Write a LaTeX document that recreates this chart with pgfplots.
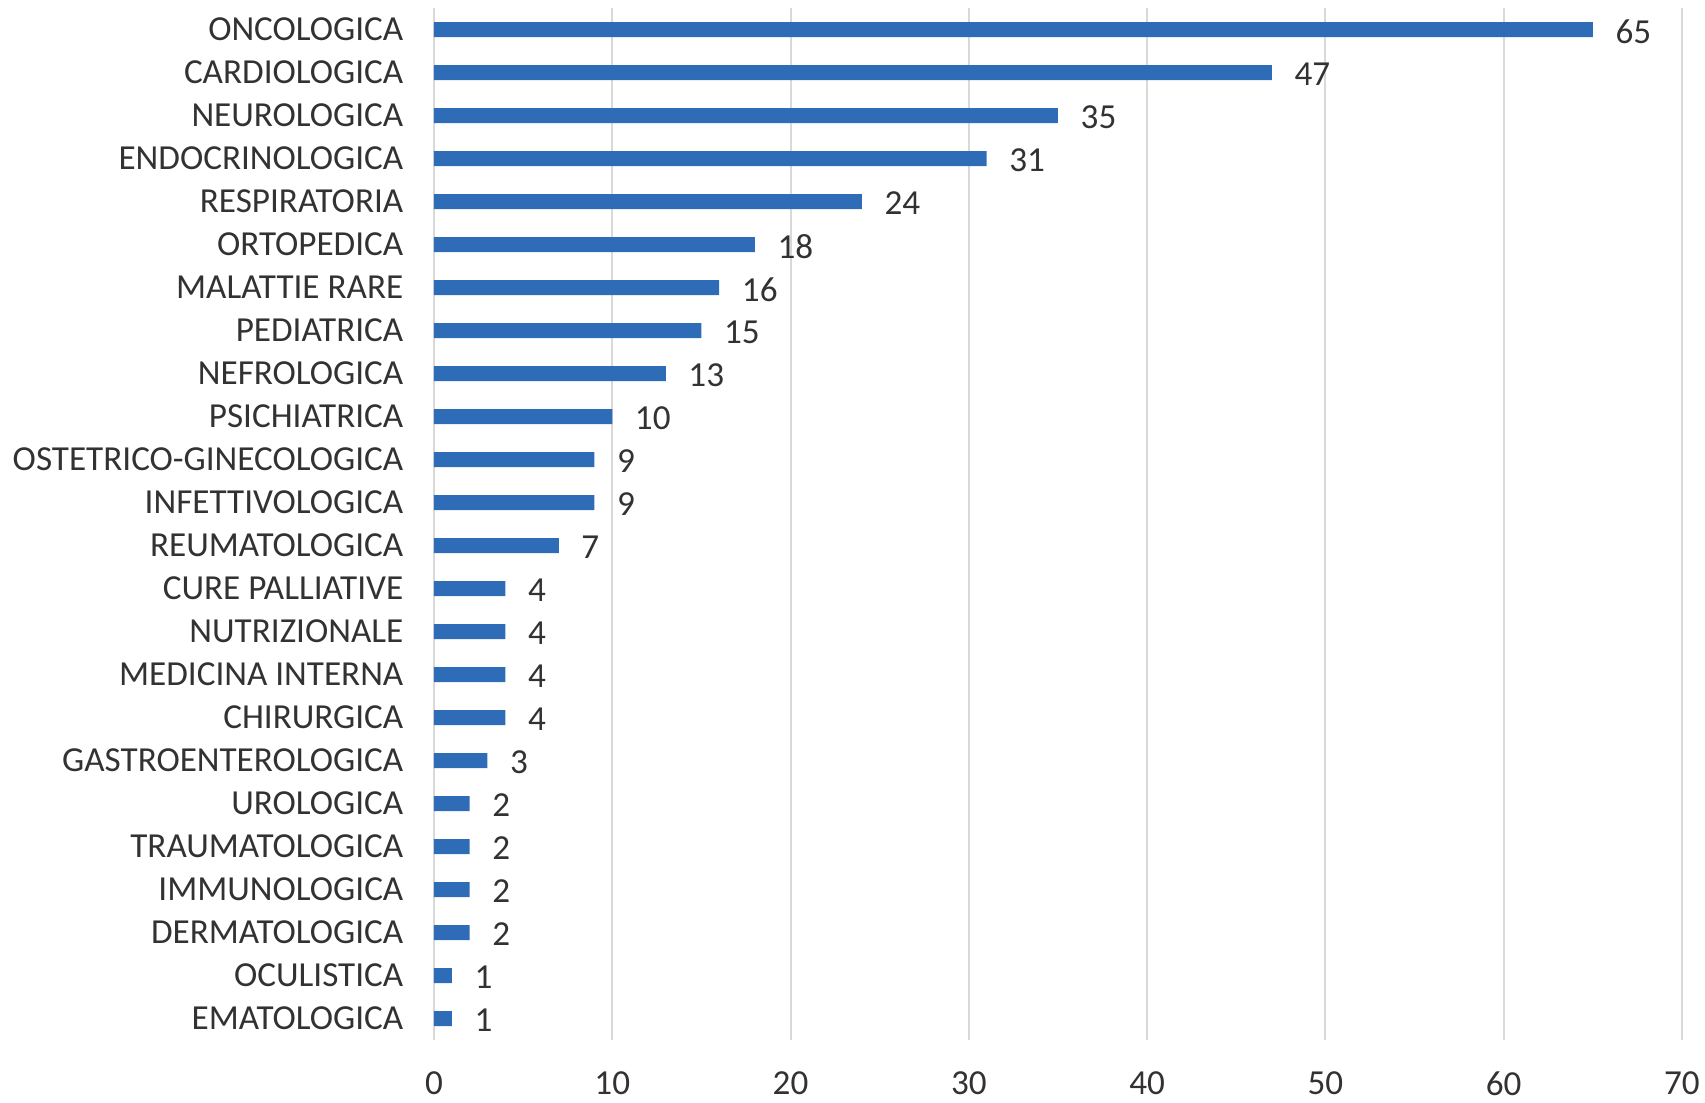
\documentclass[border=0pt]{standalone}
\usepackage{pgfplots}
\pgfplotsset{compat=1.18}
\usepackage{fontspec}
\setmainfont{Carlito}
\definecolor{barblue}{RGB}{46,108,184}
\definecolor{gridgray}{RGB}{217,217,217}
\definecolor{txt}{RGB}{50,50,50}
\begin{document}
\begin{tikzpicture}
\begin{axis}[
  scale only axis,
  width=12.48cm, height=10.32cm,
  xbar, bar width=0.15cm,
  xmin=0, xmax=70,
  ymin=-0.5, ymax=23.5,
  y dir=reverse,
  xtick={0,10,...,70},
  ytick={0,...,23},
  yticklabels={ONCOLOGICA,CARDIOLOGICA,NEUROLOGICA,ENDOCRINOLOGICA,RESPIRATORIA,ORTOPEDICA,MALATTIE RARE,PEDIATRICA,NEFROLOGICA,PSICHIATRICA,OSTETRICO-GINECOLOGICA,INFETTIVOLOGICA,REUMATOLOGICA,CURE PALLIATIVE,NUTRIZIONALE,MEDICINA INTERNA,CHIRURGICA,GASTROENTEROLOGICA,UROLOGICA,TRAUMATOLOGICA,IMMUNOLOGICA,DERMATOLOGICA,OCULISTICA,EMATOLOGICA},
  axis line style={draw=none},
  major tick length=0pt,
  xmajorgrids,
  grid style={gridgray, line width=0.6pt},
  /pgf/number format/assume math mode=true,
  tick label style={font=\fontsize{10pt}{11pt}\selectfont, text=txt},
  yticklabel style={inner sep=0pt, anchor=east, xshift=-0.3cm},
  xticklabel style={inner sep=0pt, anchor=north, yshift=-0.31cm},
  nodes near coords,
  nodes near coords style={font=\fontsize{10pt}{11pt}\selectfont, text=txt, anchor=west, inner sep=0pt, xshift=0.22cm, yshift=-0.02cm},
  clip=false,
]
\addplot[fill=barblue, draw=none] table[x=v, y=i] {
i v
0 65
1 47
2 35
3 31
4 24
5 18
6 16
7 15
8 13
9 10
10 9
11 9
12 7
13 4
14 4
15 4
16 4
17 3
18 2
19 2
20 2
21 2
22 1
23 1
};
\end{axis}
\pgfresetboundingbox
\path (-4.34cm,-0.62cm) rectangle (12.71cm,10.40cm);
\end{tikzpicture}
\end{document}
